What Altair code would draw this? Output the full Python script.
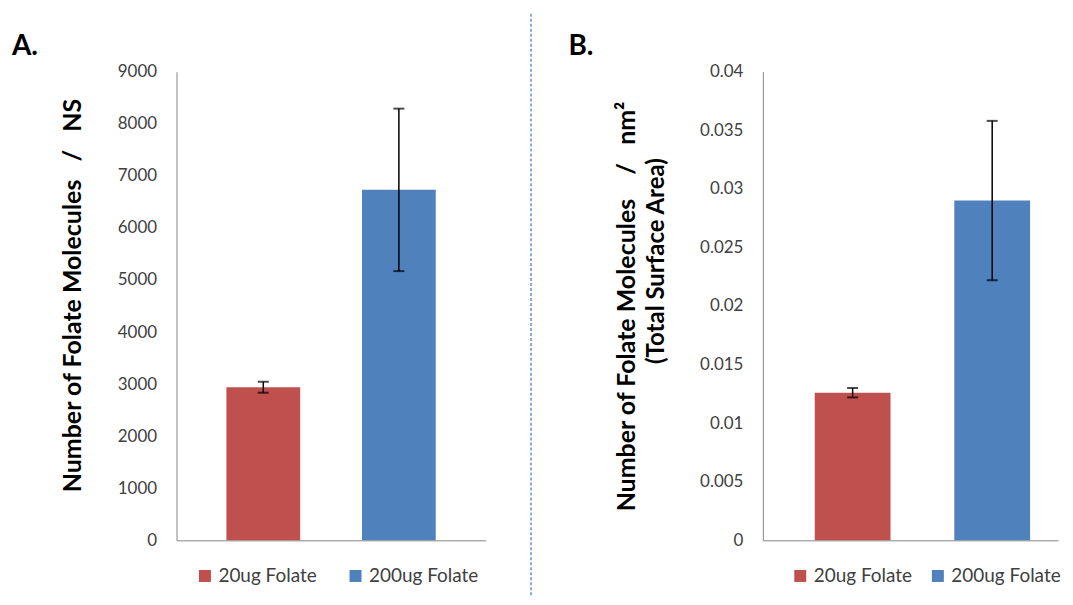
import altair as alt
import pandas as pd

FONT = "Lato"
NB = "\u00a0"

categories = ["20ug Folate", "200ug Folate"]
colors = ["#C0504D", "#4F81BD"]

a_values = [2940, 6730]
a_errors = [105, 1560]
a_ticks = [0, 1000, 2000, 3000, 4000, 5000, 6000, 7000, 8000, 9000]
a_title = "Number of Folate Molecules" + NB * 3 + "/" + NB * 3 + "NS"

b_values = [0.0126, 0.0290]
b_errors = [0.0004, 0.0068]
b_ticks = [0, 0.005, 0.01, 0.015, 0.02, 0.025, 0.03, 0.035, 0.04]
b_title = "Number of Folate Molecules" + NB * 4 + "/" + NB * 3 + "nm\u00b2"
b_subtitle = "(Total Surface Area)"

one = pd.DataFrame({"k": [0]})


def panel(values, errors, ticks, ymax, fmt, title, title_x, title_y, letter, letter_x,
          width, pad_inner, pad_outer, align, legend_x, legend_pad,
          divider=False, subtitle=None):
    df = pd.DataFrame({
        "cat": categories,
        "value": values,
        "lo": [v - e for v, e in zip(values, errors)],
        "hi": [v + e for v, e in zip(values, errors)],
    })
    base = alt.Chart(df)
    xscale = alt.Scale(domain=categories, paddingInner=pad_inner,
                       paddingOuter=pad_outer, align=align)
    xenc = alt.X("cat:N", sort=categories, scale=xscale,
                 axis=alt.Axis(labels=False, ticks=False, title=None,
                               domainColor="#868686", domainWidth=1))
    yscale = alt.Scale(domain=[0, ymax], nice=False, zero=True)
    yaxis = alt.Axis(values=ticks, format=fmt, grid=False, ticks=False, tickSize=0,
                     labelPadding=20, labelFont=FONT, labelFontSize=17,
                     labelColor="#404040", domainColor="#868686", domainWidth=1,
                     title=title, titleFont=FONT, titleFontSize=25,
                     titleFontWeight="bold", titleColor="black",
                     titleBaseline="alphabetic", titleAngle=270,
                     titleX=title_x, titleY=title_y)
    bars = base.mark_bar().encode(
        x=xenc,
        y=alt.Y("value:Q", scale=yscale, axis=yaxis),
        color=alt.Color("cat:N", sort=categories,
                        scale=alt.Scale(domain=categories, range=colors),
                        legend=alt.Legend(orient="none", legendX=legend_x, legendY=496,
                                          direction="horizontal", title=None,
                                          symbolType="square", symbolSize=144,
                                          symbolStrokeWidth=0,
                                          labelFont=FONT, labelFontSize=19,
                                          labelColor="#404040", labelOffset=4,
                                          columnPadding=legend_pad)),
    )
    err = base.mark_rule(color="black", strokeWidth=1.5).encode(
        x=alt.X("cat:N", sort=categories), y="lo:Q", y2="hi:Q")
    cap_hi = base.mark_tick(color="black", thickness=2, size=11).encode(
        x=alt.X("cat:N", sort=categories), y="hi:Q")
    cap_lo = base.mark_tick(color="black", thickness=2, size=11).encode(
        x=alt.X("cat:N", sort=categories), y="lo:Q")
    label = alt.Chart(one).mark_text(
        text=letter, font=FONT, fontSize=28, fontWeight="bold", color="black",
        align="left", baseline="alphabetic").encode(
        x=alt.value(letter_x), y=alt.value(-17))
    layers = [bars, err, cap_hi, cap_lo, label]
    if subtitle is not None:
        sub = alt.Chart(one).mark_text(
            text=subtitle, font=FONT, fontSize=24, fontWeight="bold", color="black",
            align="center", baseline="alphabetic", angle=270).encode(
            x=alt.value(-99), y=alt.value(190))
        layers.append(sub)
    if divider:
        rule = alt.Chart(one).mark_rule(color="#4A7EBB", strokeDash=[3, 2],
                                        strokeWidth=1.3).encode(
            x=alt.value(355.5), y=alt.value(-58), y2=alt.value(525))
        layers.append(rule)
    return alt.layer(*layers).properties(width=width, height=470)


pa = panel(a_values, a_errors, a_ticks, 9000, "d",
           a_title, -96, 224, "A.", -165,
           310, 0.456, 0.368, 0.5, 19, 29, divider=True)
pb = panel(b_values, b_errors, b_ticks, 0.04, ".3~f",
           b_title, -129, 235, "B.", -195,
           296, 0.457, 0.286, 0.65, 28, 16, subtitle=b_subtitle)

chart = alt.hconcat(pa, pb, spacing=36).resolve_scale(color="independent").resolve_legend(
    color="independent").configure(padding=4).configure_view(stroke=None)

chart.save("out.html", embed_options={"renderer": "svg", "actions": False})
